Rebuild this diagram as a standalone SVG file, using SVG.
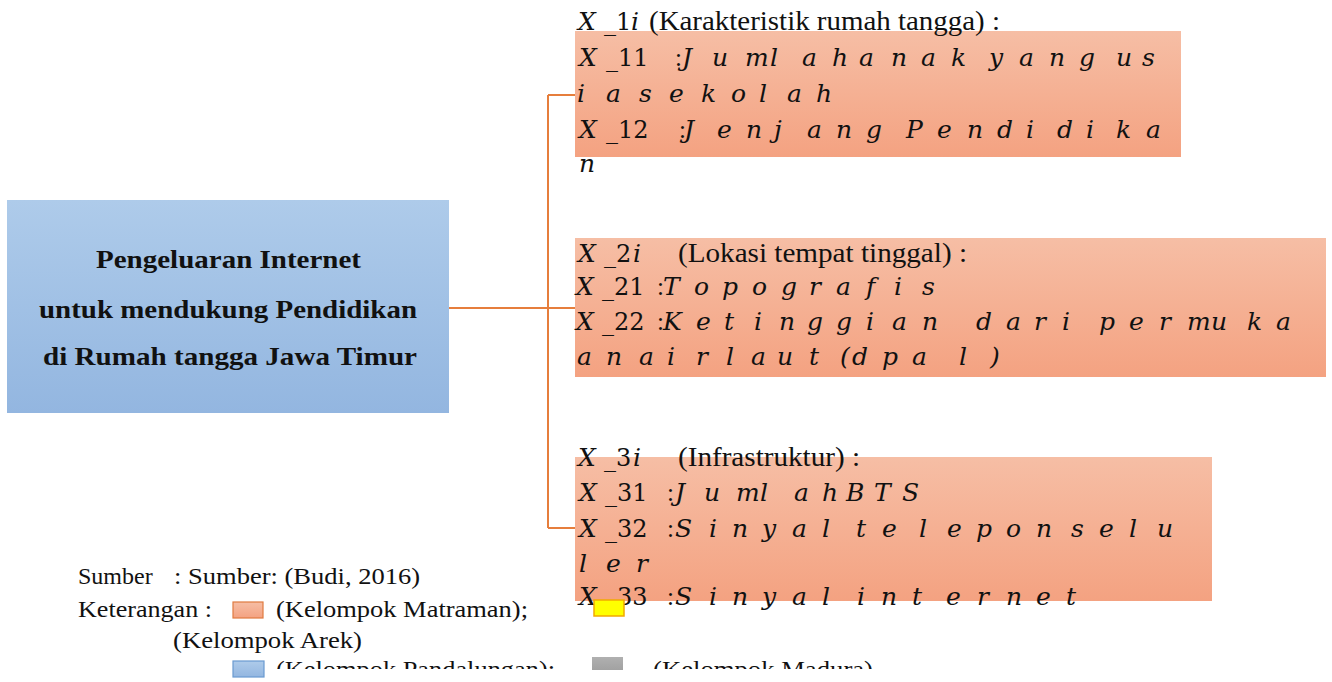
<svg xmlns="http://www.w3.org/2000/svg" width="1332" height="682" viewBox="0 0 1332 682">
<style>
.i{font-family:"DejaVu Serif",serif;font-style:italic;font-size:25px;fill:#111}
.u{font-family:"DejaVu Serif",serif;font-size:24px;fill:#111}
.c{font-family:"Liberation Serif",serif;font-size:25px;fill:#111}
.t{font-family:"Liberation Serif",serif;font-size:27px;fill:#111}
.b{font-family:"Liberation Serif",serif;font-weight:bold;font-size:26px;fill:#111}
.lg{font-family:"Liberation Serif",serif;font-size:24px;fill:#111}
.conn{fill:none;stroke:#e67e3c;stroke-width:2}
</style>
<defs>
<linearGradient id="og" x1="0" y1="0" x2="0" y2="1"><stop offset="0" stop-color="#f6bea5"/><stop offset="1" stop-color="#f4a281"/></linearGradient>
<linearGradient id="bg" x1="0" y1="0" x2="0" y2="1"><stop offset="0" stop-color="#aecbea"/><stop offset="1" stop-color="#93b6e0"/></linearGradient>
<linearGradient id="gg" x1="0" y1="0" x2="0" y2="1"><stop offset="0" stop-color="#b0b0b0"/><stop offset="1" stop-color="#9a9a9a"/></linearGradient>
<clipPath id="clipT"><rect x="0" y="0" width="1332" height="669"/></clipPath>
<clipPath id="clipG"><rect x="0" y="0" width="1332" height="670"/></clipPath>
</defs>
<rect width="1332" height="682" fill="#fff"/>

<g id="connectors">
<path class="conn" d="M449,308 H548 M548,95 V528 M548,95 H575 M548,308 H575 M548,528 H575"/>
</g>

<g id="main-node">
<rect x="7" y="200" width="442" height="213" fill="url(#bg)"/>
<text class="b" x="96" y="268" textLength="265" lengthAdjust="spacingAndGlyphs">Pengeluaran Internet</text>
<text class="b" x="39" y="318" textLength="378" lengthAdjust="spacingAndGlyphs">untuk mendukung Pendidikan</text>
<text class="b" x="43" y="365" textLength="374" lengthAdjust="spacingAndGlyphs">di Rumah tangga Jawa Timur</text>
</g>

<g id="node-x1">
<rect x="575" y="31" width="606" height="126" fill="url(#og)"/>
<text y="30"><tspan class="i" x="578">X </tspan><tspan class="u" x="604">_1</tspan><tspan class="i" x="631">i </tspan><tspan class="t" x="649" textLength="351" lengthAdjust="spacingAndGlyphs">(Karakteristik rumah tangga) :</tspan></text>
<text y="66"><tspan class="i" x="579">X </tspan><tspan class="u" x="606">_11 </tspan><tspan class="c" x="675">:</tspan><tspan class="i" x="682 700 712 730 745 770 790 802 820 832 848 859 878 891 908 921 938 951 970 989 1006 1019 1036 1049 1066 1079 1100 1116 1132 1142">J u ml a h a n a k y a n g u s</tspan></text>
<text class="i" y="102" x="577 592 606 624 639 655 669 686 701 717 731 746 759 774 787 802 816">i a s e k o l a h</text>
<text y="138"><tspan class="i" x="579">X </tspan><tspan class="u" x="606">_12 </tspan><tspan class="c" x="679">:</tspan><tspan class="i" x="684 702 717 733 746 761 774 792 807 823 836 852 866 887 906 923 937 953 967 983 997 1013 1026 1043 1057 1073 1086 1102 1116 1132 1146">J e n j a n g P e n d i d i k a</tspan></text>
<text class="i" x="579" y="172">n</text>
</g>

<g id="node-x2">
<rect x="575" y="238" width="751" height="139" fill="url(#og)"/>
<text y="262"><tspan class="i" x="578">X </tspan><tspan class="u" x="604">_2</tspan><tspan class="i" x="633">i </tspan><tspan class="t" x="678" textLength="289" lengthAdjust="spacingAndGlyphs">(Lokasi tempat tinggal) :</tspan></text>
<text y="295"><tspan class="i" x="576">X </tspan><tspan class="u" x="602">_21 </tspan><tspan class="c" x="657">:</tspan><tspan class="i" x="663 680 694 709 722 738 752 767 781 796 809 823 836 852 866 881 894 909 922">T o p o g r a f i s</tspan></text>
<text y="330"><tspan class="i" x="576">X </tspan><tspan class="u" x="602">_22 </tspan><tspan class="c" x="657">:</tspan><tspan class="i" x="663 680 696 711 724 740 754 767 779 794 807 822 836 852 866 880 892 908 922 950 976 992 1006 1021 1034 1049 1062 1081 1099 1115 1129 1145 1159 1174 1187 1211 1230 1247 1262 1276">K e t i n g g i a n d a r i p e r mu k a</tspan></text>
<text class="i" y="365" x="577 592 606 624 639 654 667 682 696 712 726 740 751 765 777 794 809 825 840 852 868 882 898 912 936 959 975 990">a n a i r l a u t (d p a l )</text>
</g>

<g id="node-x3">
<rect x="575" y="457" width="637" height="144" fill="url(#og)"/>
<text y="466"><tspan class="i" x="578">X </tspan><tspan class="u" x="604">_3</tspan><tspan class="i" x="633">i </tspan><tspan class="t" x="678" textLength="182" lengthAdjust="spacingAndGlyphs">(Infrastruktur) :</tspan></text>
<text y="501"><tspan class="i" x="579">X </tspan><tspan class="u" x="605">_31 </tspan><tspan class="c" x="667">:</tspan><tspan class="i" x="675 691 704 721 736 760 778 794 809 822 846 861 874 889 902">J u ml a hB T S</tspan></text>
<text y="537"><tspan class="i" x="579">X </tspan><tspan class="u" x="605">_32 </tspan><tspan class="c" x="667">:</tspan><tspan class="i" x="675 693 709 721 732 748 762 778 792 808 822 840 856 870 882 901 919 934 947 962 976 992 1006 1022 1036 1055 1071 1086 1099 1115 1129 1144 1157">S i n y a l t e l e p o n s e l u</tspan></text>
<text class="i" y="572" x="579 593 606 622 636">l e r</text>
<text y="605"><tspan class="i" x="579">X </tspan><tspan class="u" x="605">_33 </tspan><tspan class="c" x="667">:</tspan><tspan class="i" x="675 693 709 721 732 748 762 778 792 808 822 840 857 870 881 897 912 930 946 962 977 992 1006 1022 1036 1052 1066">S i n y a l i n t e r n e t</tspan></text>
<rect x="594" y="600" width="30" height="16" fill="#ffff00" stroke="#f2a900" stroke-width="1.5"/>
</g>

<g id="legend">
<text class="lg" y="584"><tspan x="78">Sumber</tspan><tspan x="174" textLength="246" lengthAdjust="spacingAndGlyphs">: Sumber: (Budi, 2016)</tspan></text>
<text class="lg" x="78" y="617" textLength="134" lengthAdjust="spacingAndGlyphs">Keterangan :</text>
<rect x="233" y="602" width="30" height="16" fill="url(#og)" stroke="#e07a40" stroke-width="1.2"/>
<text class="lg" x="276" y="617" textLength="252" lengthAdjust="spacingAndGlyphs">(Kelompok Matraman);</text>
<text class="lg" x="173" y="648" textLength="189" lengthAdjust="spacingAndGlyphs">(Kelompok Arek)</text>
<rect x="233" y="661" width="31" height="16" fill="url(#bg)" stroke="#6a9ad0" stroke-width="1.2"/>
<g clip-path="url(#clipT)">
<text class="lg" x="276" y="677" textLength="279" lengthAdjust="spacingAndGlyphs">(Kelompok Pandalungan);</text>
<text class="lg" x="653" y="677" textLength="220" lengthAdjust="spacingAndGlyphs">(Kelompok Madura)</text>
</g>
<rect x="592" y="657" width="31" height="20" fill="url(#gg)" clip-path="url(#clipG)"/>
</g>
</svg>
